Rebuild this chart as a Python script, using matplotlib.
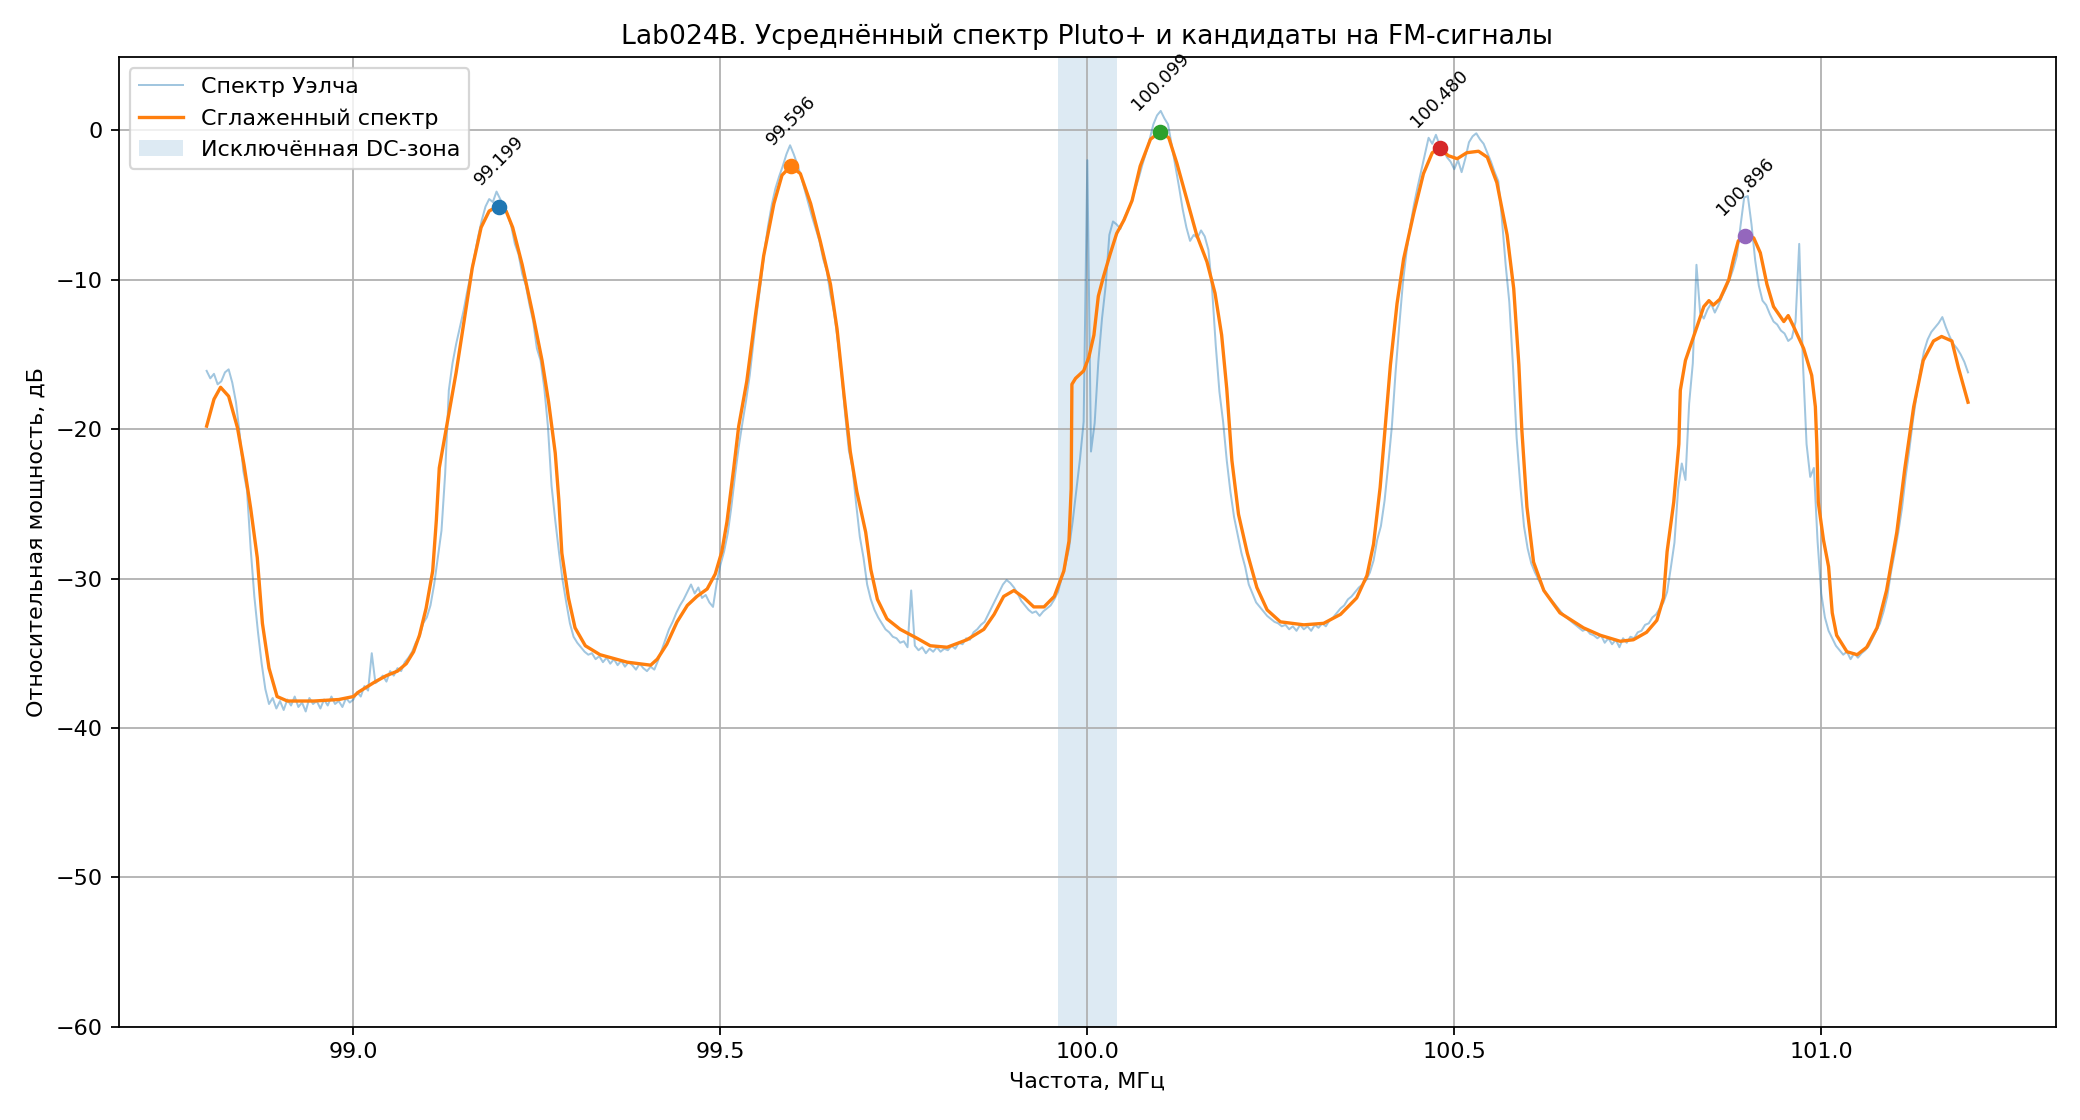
import numpy as np
import matplotlib.pyplot as plt

# Welch spectrum, 5 kHz step from 98.8 MHz
raw_start = 98.8
raw_step = 0.005
raw_db = [
    -16.1, -16.6, -16.3, -17.0, -16.8, -16.2, -16.0, -16.9, -18.2, -20.3, -22.8, -24.1, -28.0, -31.2, -33.6, -35.7, -37.4, -38.4, -38.0, -38.7,
    -38.2, -38.8, -38.1, -38.5, -37.9, -38.6, -38.3, -38.9, -38.0, -38.4, -38.2, -38.7, -38.1, -38.5, -37.9, -38.4, -38.2, -38.6, -38.0, -38.3,
    -38.1, -37.6, -37.9, -37.2, -37.5, -35.0, -37.0, -36.8, -36.5, -36.9, -36.2, -36.5, -36.0, -36.2, -35.6, -35.3, -34.9, -34.3, -33.9, -33.0,
    -32.6, -31.8, -30.4, -28.6, -26.8, -23.0, -17.4, -15.6, -14.3, -13.2, -12.1, -10.8, -9.6, -8.4, -7.1, -6.0, -5.1, -4.6, -4.8, -4.1,
    -4.6, -5.0, -5.6, -6.4, -7.6, -8.3, -9.6, -10.4, -11.7, -12.8, -14.6, -15.4, -17.2, -19.8, -23.8, -26.1, -28.2, -30.1, -31.6, -33.0,
    -33.9, -34.3, -34.6, -34.9, -35.1, -35.0, -35.4, -35.2, -35.6, -35.3, -35.7, -35.4, -35.8, -35.5, -35.9, -35.6, -35.8, -36.1, -35.7, -36.0,
    -36.2, -35.9, -36.1, -35.5, -34.8, -34.1, -33.4, -32.9, -32.3, -31.8, -31.4, -30.9, -30.4, -31.0, -30.6, -31.3, -31.1, -31.6, -31.9, -30.3,
    -29.1, -28.2, -27.0, -25.2, -23.1, -21.2, -19.6, -18.1, -16.4, -14.2, -12.1, -10.2, -8.1, -6.4, -5.0, -3.9, -3.1, -2.4, -1.6, -1.0,
    -1.6, -2.3, -3.1, -4.0, -4.9, -5.8, -6.6, -7.4, -8.6, -9.4, -11.0, -12.2, -14.1, -16.2, -19.0, -21.4, -22.6, -25.0, -27.2, -28.6,
    -30.4, -31.4, -32.1, -32.6, -33.0, -33.4, -33.6, -33.9, -34.0, -34.3, -34.2, -34.6, -30.8, -34.5, -34.8, -34.6, -35.0, -34.7, -34.9, -34.6,
    -34.9, -34.7, -34.8, -34.5, -34.7, -34.3, -34.4, -34.0, -34.1, -33.6, -33.4, -33.1, -32.9, -32.4, -31.9, -31.4, -30.9, -30.4, -30.1, -30.3,
    -30.6, -31.0, -31.5, -31.8, -32.1, -32.3, -32.2, -32.5, -32.2, -32.0, -31.8, -31.4, -30.9, -30.0, -29.1, -28.0, -26.2, -24.1, -22.0, -19.5,
    -2.0, -21.5, -19.6, -15.5, -12.6, -10.4, -7.0, -6.1, -6.3, -6.6, -5.9, -5.4, -4.8, -4.0, -3.2, -2.3, -1.5, -0.6, 0.4, 1.0,
    1.3, 0.8, 0.4, -1.0, -2.4, -3.8, -5.3, -6.5, -7.4, -7.0, -7.2, -6.7, -7.1, -8.0, -10.6, -14.4, -17.5, -19.5, -22.1, -24.2,
    -25.9, -27.1, -28.3, -29.2, -30.4, -31.0, -31.6, -31.9, -32.2, -32.5, -32.7, -32.9, -33.0, -33.2, -33.1, -33.4, -33.2, -33.5, -33.1, -33.4,
    -33.2, -33.5, -33.1, -33.3, -33.0, -33.2, -32.8, -32.6, -32.3, -32.0, -31.8, -31.4, -31.2, -30.9, -30.6, -30.4, -30.1, -29.6, -28.8, -27.4,
    -26.5, -24.8, -22.4, -19.8, -16.2, -13.1, -10.2, -8.1, -6.4, -5.0, -3.8, -2.7, -1.6, -0.5, -0.9, -0.3, -1.0, -1.3, -1.8, -2.1,
    -2.6, -2.0, -2.8, -1.9, -0.8, -0.4, -0.2, -0.6, -0.9, -1.5, -2.1, -2.8, -3.4, -6.0, -9.0, -11.5, -15.8, -20.6, -23.8, -26.5,
    -28.0, -29.0, -29.6, -30.1, -30.6, -31.0, -31.3, -31.6, -31.9, -32.2, -32.5, -32.7, -32.9, -33.1, -33.3, -33.5, -33.4, -33.7, -33.8, -34.0,
    -33.8, -34.3, -34.0, -34.4, -34.1, -34.6, -34.0, -34.3, -33.9, -34.0, -33.6, -33.5, -33.1, -33.0, -32.6, -32.4, -32.0, -31.6, -30.9, -29.3,
    -27.6, -24.0, -22.3, -23.4, -18.3, -15.6, -9.0, -12.2, -12.6, -12.0, -11.6, -12.2, -11.7, -11.1, -10.6, -10.0, -9.3, -8.4, -6.4, -4.5,
    -4.4, -6.3, -8.7, -10.4, -11.4, -11.7, -12.3, -12.8, -13.0, -13.4, -13.6, -14.1, -13.9, -12.8, -7.6, -15.5, -21.0, -23.2, -22.6, -27.5,
    -31.0, -32.6, -33.5, -34.0, -34.5, -34.8, -35.1, -34.9, -35.4, -35.0, -35.3, -35.0, -34.8, -34.5, -34.0, -33.5, -33.0, -32.2, -31.2, -29.6,
    -28.3, -26.9, -25.3, -23.2, -21.4, -19.4, -17.7, -16.1, -14.8, -14.0, -13.5, -13.2, -12.9, -12.5, -13.2, -13.8, -14.3, -14.6, -15.0, -15.5,
    -16.2,
]

# smoothed spectrum
smooth_f = [
    98.800, 98.810, 98.819, 98.830, 98.842, 98.851, 98.860, 98.869, 98.876, 98.885,
    98.896, 98.910, 98.946, 98.980, 99.000, 99.007, 99.030, 99.045, 99.060, 99.072,
    99.082, 99.090, 99.099, 99.108, 99.113, 99.117, 99.126, 99.140, 99.151, 99.162,
    99.174, 99.185, 99.196, 99.208, 99.217, 99.230, 99.244, 99.257, 99.266, 99.275,
    99.280, 99.284, 99.293, 99.302, 99.316, 99.336, 99.373, 99.405, 99.414, 99.427,
    99.441, 99.455, 99.468, 99.482, 99.493, 99.502, 99.509, 99.518, 99.525, 99.536,
    99.548, 99.559, 99.573, 99.584, 99.596, 99.609, 99.623, 99.636, 99.650, 99.659,
    99.668, 99.677, 99.686, 99.698, 99.705, 99.714, 99.727, 99.745, 99.768, 99.786,
    99.809, 99.836, 99.859, 99.873, 99.886, 99.900, 99.914, 99.927, 99.941, 99.955,
    99.968, 99.975, 99.978, 99.979, 99.984, 99.995, 100.002, 100.009, 100.015, 100.022,
    100.031, 100.040, 100.050, 100.061, 100.072, 100.086, 100.099, 100.111, 100.122, 100.136,
    100.149, 100.163, 100.174, 100.183, 100.190, 100.197, 100.206, 100.218, 100.231, 100.245,
    100.263, 100.295, 100.322, 100.345, 100.367, 100.381, 100.390, 100.399, 100.406, 100.413,
    100.422, 100.431, 100.445, 100.458, 100.470, 100.480, 100.492, 100.504, 100.517, 100.533,
    100.545, 100.558, 100.572, 100.581, 100.588, 100.592, 100.599, 100.608, 100.622, 100.644,
    100.676, 100.699, 100.726, 100.744, 100.762, 100.776, 100.785, 100.790, 100.799, 100.806,
    100.808, 100.815, 100.822, 100.831, 100.840, 100.847, 100.853, 100.862, 100.874, 100.881,
    100.887, 100.896, 100.908, 100.917, 100.926, 100.935, 100.949, 100.955, 100.962, 100.976,
    100.987, 100.992, 100.994, 100.996, 101.003, 101.010, 101.015, 101.021, 101.035, 101.049,
    101.062, 101.076, 101.089, 101.103, 101.114, 101.126, 101.139, 101.153, 101.164, 101.178,
    101.187, 101.200,
]
smooth_db = [
    -19.8, -18.0, -17.2, -17.8, -19.9, -22.4, -25.3, -28.6, -33.0, -36.0,
    -37.9, -38.2, -38.2, -38.1, -37.9, -37.6, -36.9, -36.5, -36.2, -35.7,
    -34.9, -33.8, -32.0, -29.5, -26.1, -22.6, -20.1, -16.2, -12.7, -9.2,
    -6.5, -5.4, -5.1, -5.4, -6.5, -9.0, -12.2, -15.4, -18.2, -21.6,
    -24.8, -28.3, -31.3, -33.3, -34.5, -35.1, -35.6, -35.8, -35.4, -34.4,
    -32.9, -31.8, -31.2, -30.7, -29.7, -28.2, -26.2, -22.7, -19.8, -16.8,
    -12.3, -8.4, -4.9, -3.0, -2.4, -2.9, -4.9, -7.4, -10.3, -13.3,
    -17.5, -21.5, -24.2, -26.9, -29.4, -31.4, -32.7, -33.4, -34.0, -34.5,
    -34.6, -34.1, -33.4, -32.4, -31.2, -30.8, -31.3, -31.9, -31.9, -31.2,
    -29.5, -27.5, -24.0, -17.0, -16.6, -16.1, -15.2, -13.7, -11.1, -9.8,
    -8.3, -6.9, -6.0, -4.7, -2.4, -0.6, -0.1, -0.5, -2.2, -4.7,
    -7.0, -8.8, -10.9, -13.7, -17.3, -22.1, -25.7, -28.3, -30.6, -32.1,
    -32.9, -33.1, -33.0, -32.4, -31.3, -29.8, -27.7, -23.9, -19.8, -15.7,
    -11.6, -8.6, -5.5, -2.9, -1.5, -1.2, -1.7, -1.9, -1.5, -1.4,
    -1.8, -3.5, -7.0, -10.6, -15.7, -20.0, -25.2, -28.9, -30.8, -32.3,
    -33.3, -33.8, -34.2, -34.1, -33.6, -32.8, -31.3, -28.2, -24.9, -21.0,
    -17.4, -15.4, -14.4, -13.1, -11.8, -11.4, -11.7, -11.3, -10.0, -8.5,
    -7.4, -7.1, -7.2, -8.2, -10.3, -11.8, -12.8, -12.4, -13.1, -14.6,
    -16.4, -18.5, -21.0, -24.9, -27.4, -29.2, -32.3, -33.8, -34.9, -35.1,
    -34.6, -33.3, -30.8, -26.9, -22.6, -18.5, -15.4, -14.1, -13.8, -14.1,
    -15.9, -18.2,
]

# FM candidates
peak_f = [99.199, 99.596, 100.099, 100.480, 100.896]
peak_db = [-5.1, -2.4, -0.1, -1.2, -7.1]
peak_colors = ["C0", "C1", "C2", "C3", "C4"]

dc_lo = 99.96
dc_hi = 100.04

raw_f = raw_start + raw_step * np.arange(len(raw_db))

fig, ax = plt.subplots(figsize=(13, 7), dpi=160)
fig.subplots_adjust(left=0.057, right=0.9885, top=0.949, bottom=0.0833)

ax.plot(raw_f, raw_db, color="C0", lw=0.9, alpha=0.42, label="Спектр Уэлча")
ax.plot(smooth_f, smooth_db, color="C1", lw=1.5, label="Сглаженный спектр")
ax.axvspan(dc_lo, dc_hi, color="C0", alpha=0.15, lw=0, label="Исключённая DC-зона")

for f, p, c in zip(peak_f, peak_db, peak_colors):
    ax.scatter([f], [p], color=c, zorder=3)
    ax.annotate(f"{f:.3f}", (f, p), xytext=(0, 8), textcoords="offset points",
                ha="center", va="bottom", rotation=45, fontsize=8)

ax.set_ylim(-60, 4.9)
ax.set_title("Lab024B. Усреднённый спектр Pluto+ и кандидаты на FM-сигналы")
ax.set_xlabel("Частота, МГц")
ax.set_ylabel("Относительная мощность, дБ")
ax.grid(True)
ax.legend(loc="upper left")
fig.savefig("out.png")
